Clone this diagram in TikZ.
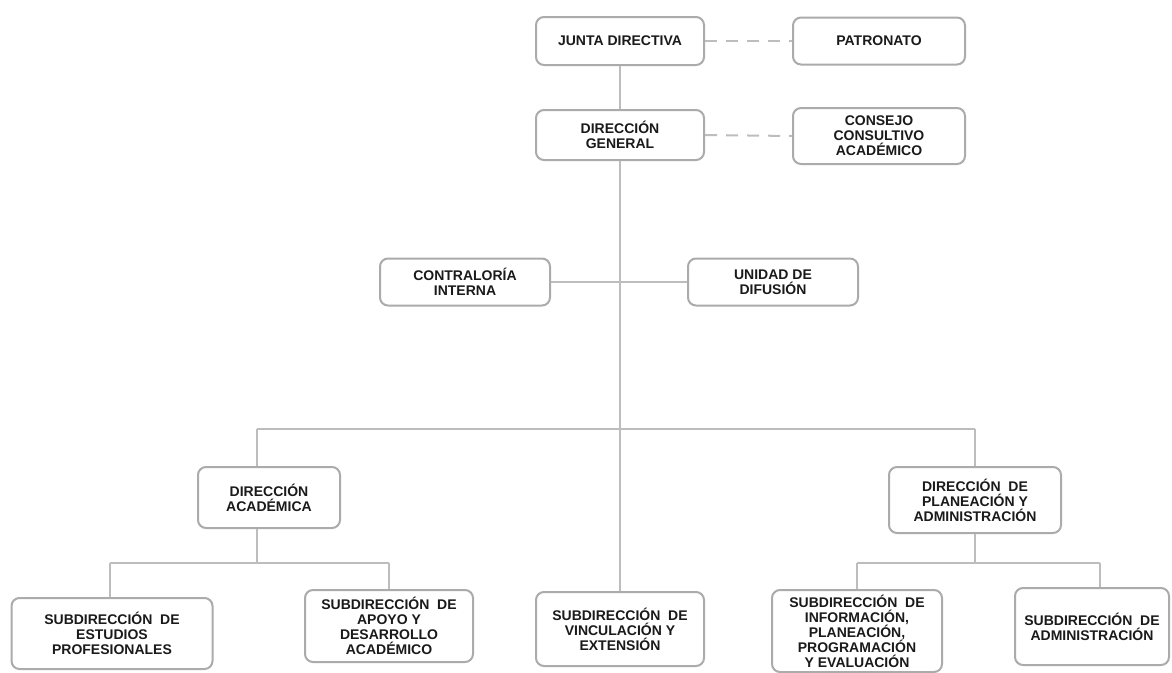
\documentclass[tikz,border=0pt]{standalone}
\usepackage{fontspec}
\setmainfont{Liberation Sans}
\definecolor{boxline}{HTML}{ABABAB}
\definecolor{conline}{HTML}{BDBDBD}
\definecolor{txt}{HTML}{1A1A1A}
\begin{document}
\begin{tikzpicture}[x=1pt,y=-1pt,
  orgbox/.style={draw=boxline, line width=2pt, rounded corners=8pt, fill=white,
    align=center, inner sep=0pt, text=txt,
    font=\bfseries\fontsize{14}{15}\selectfont},
  conn/.style={draw=conline, line width=2pt},
  dconn/.style={draw=conline, line width=2pt, dash pattern=on 12pt off 9pt}]
\useasboundingbox[fill=white] (0,0) rectangle (1172,672);
% nodes
\node[orgbox, minimum width=168pt, minimum height=48pt] (jd) at (620,41) {JUNTA DIRECTIVA};
\node[orgbox, minimum width=172pt, minimum height=47pt] (pat) at (879,41) {PATRONATO};
\node[orgbox, minimum width=168pt, minimum height=50pt] (dg) at (620,135) {DIRECCIÓN\\GENERAL};
\node[orgbox, minimum width=172pt, minimum height=56pt] (cons) at (879,136) {CONSEJO\\CONSULTIVO\\ACADÉMICO};
\node[orgbox, minimum width=170pt, minimum height=47pt] (contra) at (465,282) {CONTRALORÍA\\INTERNA};
\node[orgbox, minimum width=170pt, minimum height=47pt] (unid) at (773,282) {UNIDAD DE\\DIFUSIÓN};
\node[orgbox, minimum width=142pt, minimum height=61pt] (dacad) at (269,497.5) {DIRECCIÓN\\ACADÉMICA};
\node[orgbox, minimum width=172pt, minimum height=66pt] (dpa) at (975,500) {DIRECCIÓN \ DE\\PLANEACIÓN Y\\ADMINISTRACIÓN};
\node[orgbox, minimum width=201pt, minimum height=71pt] (sep) at (112,633.5) {SUBDIRECCIÓN \ DE\\ESTUDIOS\\PROFESIONALES};
\node[orgbox, minimum width=168pt, minimum height=72pt] (sad) at (389,626) {SUBDIRECCIÓN \ DE\\APOYO Y\\DESARROLLO\\ACADÉMICO};
\node[orgbox, minimum width=168pt, minimum height=74pt] (svin) at (620,629) {SUBDIRECCIÓN \ DE\\VINCULACIÓN Y\\EXTENSIÓN};
\node[orgbox, minimum width=170pt, minimum height=82pt] (sinf) at (857,631) {SUBDIRECCIÓN \ DE\\INFORMACIÓN,\\PLANEACIÓN,\\PROGRAMACIÓN\\Y EVALUACIÓN};
\node[orgbox, minimum width=154pt, minimum height=77pt] (sadm) at (1092,626.5) {SUBDIRECCIÓN \ DE\\ADMINISTRACIÓN};
% junction coordinates
\coordinate (busL) at (257,429);
\coordinate (busR) at (975,429);
\coordinate (lbusL) at (110,563);
\coordinate (lbusM) at (257,563);
\coordinate (lbusR) at (389,563);
\coordinate (rbusL) at (857,563);
\coordinate (rbusM) at (975,563);
\coordinate (rbusR) at (1100,563);
% connectors
\draw[dconn] (jd.east) -- (pat.west);
\draw[dconn] (dg.east) -- (cons.west);
\draw[conn] (jd.south) -- (dg.north);
\draw[conn] (dg.south) -- (svin.north);
\draw[conn] (contra.east) -- (unid.west);
\draw[conn] (busL) -- (busR);
\draw[conn] (busL) -- (busL |- dacad.north);
\draw[conn] (busR) -- (dpa.north);
\draw[conn] (lbusM |- dacad.south) -- (lbusM);
\draw[conn] (lbusL) -- (lbusR);
\draw[conn] (lbusL) -- (lbusL |- sep.north);
\draw[conn] (lbusR) -- (sad.north);
\draw[conn] (dpa.south) -- (rbusM);
\draw[conn] (rbusL) -- (rbusR);
\draw[conn] (rbusL) -- (sinf.north);
\draw[conn] (rbusR) -- (rbusR |- sadm.north);
\end{tikzpicture}
\end{document}
